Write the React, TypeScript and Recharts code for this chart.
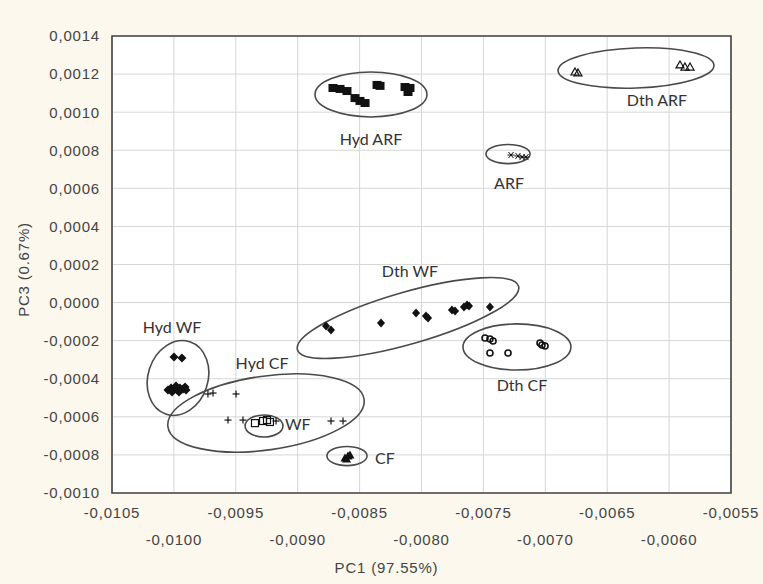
import React from 'react';
import { ScatterChart, Scatter, XAxis, YAxis, CartesianGrid, ReferenceArea } from 'recharts';

const xTicks = [-0.0105, -0.01, -0.0095, -0.009, -0.0085, -0.008, -0.0075, -0.007, -0.0065, -0.006, -0.0055];
const yTicks = [-0.001, -0.0008, -0.0006, -0.0004, -0.0002, 0, 0.0002, 0.0004, 0.0006, 0.0008, 0.001, 0.0012, 0.0014];
// small inner tick marks along the frame, every 0.0001
const xMinor = Array.from({ length: 51 }, (_, i) => -0.0105 + i * 0.0001);
const yMinor = Array.from({ length: 25 }, (_, i) => -0.001 + i * 0.0001);

type Pt = { x: number; y: number };

const hydArf: Pt[] = [
  { x: -0.008715, y: 0.001127 }, { x: -0.008658, y: 0.001122 }, { x: -0.008602, y: 0.001111 },
  { x: -0.008537, y: 0.001074 }, { x: -0.008497, y: 0.001059 }, { x: -0.008456, y: 0.001048 },
  { x: -0.008359, y: 0.001143 }, { x: -0.008335, y: 0.001138 }, { x: -0.008133, y: 0.001132 },
  { x: -0.008109, y: 0.001106 }, { x: -0.008093, y: 0.001127 },
];
const dthArf: Pt[] = [
  { x: -0.00676, y: 0.001211 }, { x: -0.006736, y: 0.001206 },
  { x: -0.005912, y: 0.001248 }, { x: -0.005872, y: 0.001237 }, { x: -0.005831, y: 0.001237 },
];
const arf: Pt[] = [
  { x: -0.007277, y: 0.000775 }, { x: -0.007221, y: 0.00077 },
  { x: -0.007188, y: 0.000764 }, { x: -0.007156, y: 0.000764 },
];
const dthWf: Pt[] = [
  { x: -0.008771, y: -0.000123 }, { x: -0.008731, y: -0.000144 }, { x: -0.008327, y: -0.000107 },
  { x: -0.008044, y: -0.000055 }, { x: -0.007964, y: -0.000071 }, { x: -0.007947, y: -0.000081 },
  { x: -0.007754, y: -0.000039 }, { x: -0.007729, y: -0.000044 }, { x: -0.007657, y: -0.000023 },
  { x: -0.007632, y: -0.000013 }, { x: -0.007616, y: -0.000018 }, { x: -0.007447, y: -0.000023 },
];
const dthCf: Pt[] = [
  { x: -0.007487, y: -0.000186 }, { x: -0.007447, y: -0.000191 }, { x: -0.007422, y: -0.000202 },
  { x: -0.007447, y: -0.000265 }, { x: -0.007301, y: -0.000265 },
  { x: -0.007043, y: -0.000212 }, { x: -0.007027, y: -0.000223 }, { x: -0.007002, y: -0.000228 },
];
const hydWf: Pt[] = [
  { x: -0.009999, y: -0.000286 }, { x: -0.009935, y: -0.000291 },
  { x: -0.010048, y: -0.000459 }, { x: -0.010023, y: -0.000449 }, { x: -0.009999, y: -0.000454 },
  { x: -0.009975, y: -0.000459 }, { x: -0.009951, y: -0.000449 }, { x: -0.009926, y: -0.000454 },
  { x: -0.009902, y: -0.000459 }, { x: -0.009983, y: -0.000438 }, { x: -0.009959, y: -0.00047 },
  { x: -0.010015, y: -0.00047 }, { x: -0.00991, y: -0.000443 },
];
const hydCf: Pt[] = [
  { x: -0.009725, y: -0.00048 }, { x: -0.009684, y: -0.000475 }, { x: -0.009498, y: -0.00048 },
  { x: -0.009563, y: -0.000617 }, { x: -0.009442, y: -0.000617 }, { x: -0.009175, y: -0.000622 },
  { x: -0.008731, y: -0.000622 }, { x: -0.008634, y: -0.000622 },
];
const wf: Pt[] = [
  { x: -0.009345, y: -0.000633 }, { x: -0.00928, y: -0.000622 },
  { x: -0.009248, y: -0.000617 }, { x: -0.009224, y: -0.000627 },
];
const cf: Pt[] = [
  { x: -0.008618, y: -0.000816 }, { x: -0.008594, y: -0.000806 },
  { x: -0.008578, y: -0.000801 }, { x: -0.008605, y: -0.000821 },
];

// group ellipses: centre, half-widths (data units), tilt in degrees
const ellipses = [
  { name: 'Hyd ARF', cx: -0.008408, cy: 0.001093, rx: 0.000452, ry: 0.000118, angle: 0 },
  { name: 'Dth ARF', cx: -0.006267, cy: 0.001232, rx: 0.00063, ry: 0.000105, angle: -2 },
  { name: 'ARF', cx: -0.007301, cy: 0.00078, rx: 0.000178, ry: 0.00005, angle: 0 },
  { name: 'Dth WF', cx: -0.008109, cy: -0.000081, rx: 0.000929, ry: 0.000137, angle: -16 },
  { name: 'Dth CF', cx: -0.007229, cy: -0.000233, rx: 0.000436, ry: 0.000121, angle: 0 },
  { name: 'Hyd WF', cx: -0.009967, cy: -0.000396, rx: 0.000242, ry: 0.0002, angle: 18 },
  { name: 'Hyd CF', cx: -0.009256, cy: -0.00058, rx: 0.0008, ry: 0.000194, angle: -8 },
  { name: 'WF', cx: -0.009272, cy: -0.000648, rx: 0.000153, ry: 0.000058, angle: 0 },
  { name: 'CF', cx: -0.008602, cy: -0.000806, rx: 0.000162, ry: 0.00005, angle: 0 },
];

const groupLabels = [
  { x: -0.008408, y: 0.000859, text: 'Hyd ARF', anchor: 'middle' },
  { x: -0.006098, y: 0.001064, text: 'Dth ARF', anchor: 'middle' },
  { x: -0.007293, y: 0.000628, text: 'ARF', anchor: 'middle' },
  { x: -0.008093, y: 0.000166, text: 'Dth WF', anchor: 'middle' },
  { x: -0.010015, y: -0.000128, text: 'Hyd WF', anchor: 'middle' },
  { x: -0.009288, y: -0.000317, text: 'Hyd CF', anchor: 'middle' },
  { x: -0.009103, y: -0.000638, text: 'WF', anchor: 'start' },
  { x: -0.008376, y: -0.000816, text: 'CF', anchor: 'start' },
  { x: -0.007188, y: -0.000433, text: 'Dth CF', anchor: 'middle' },
];

const fmt = (v: number) => v.toFixed(4).replace('.', ',');
const INK = '#111';
const TICK_FONT = { fontFamily: 'Liberation Sans, Arial, sans-serif', fontSize: 15, fill: '#444', letterSpacing: 0.8 };

const marker = (kind: string) => (p: any) => {
  const { cx, cy } = p;
  if (cx == null || cy == null) return <g />;
  switch (kind) {
    case 'square':
      return <rect x={cx - 4.5} y={cy - 4} width={9} height={8} fill={INK} />;
    case 'diamond':
      return <path d={`M${cx},${cy - 4.5}L${cx + 4},${cy}L${cx},${cy + 4.5}L${cx - 4},${cy}Z`} fill={INK} />;
    case 'blob':
      return <path d={`M${cx},${cy - 4.5}L${cx + 4.5},${cy}L${cx},${cy + 4.5}L${cx - 4.5},${cy}Z`} fill={INK} />;
    case 'openTri':
      return <path d={`M${cx},${cy - 4}L${cx + 4},${cy + 3}L${cx - 4},${cy + 3}Z`} fill="none" stroke={INK} strokeWidth={1.2} />;
    case 'tri':
      return <path d={`M${cx},${cy - 4.5}L${cx + 4.5},${cy + 3.5}L${cx - 4.5},${cy + 3.5}Z`} fill={INK} />;
    case 'star':
      return (
        <g stroke={INK} strokeWidth={1}>
          <line x1={cx - 3.5} y1={cy} x2={cx + 3.5} y2={cy} />
          <line x1={cx - 2.5} y1={cy - 3} x2={cx + 2.5} y2={cy + 3} />
          <line x1={cx + 2.5} y1={cy - 3} x2={cx - 2.5} y2={cy + 3} />
        </g>
      );
    case 'openCircle':
      return <circle cx={cx} cy={cy} r={3} fill="none" stroke={INK} strokeWidth={1.6} />;
    case 'plus':
      return (
        <g stroke={INK} strokeWidth={1.2}>
          <line x1={cx - 3.5} y1={cy} x2={cx + 3.5} y2={cy} />
          <line x1={cx} y1={cy - 3.5} x2={cx} y2={cy + 3.5} />
        </g>
      );
    case 'openSquare':
      return <rect x={cx - 3.5} y={cy - 3.5} width={7} height={7} fill="none" stroke={INK} strokeWidth={1.2} />;
    default:
      return <circle cx={cx} cy={cy} r={3} fill={INK} />;
  }
};

const ellipseShape = (angle: number) => (p: any) => {
  const w = Math.abs(p.width);
  const h = Math.abs(p.height);
  const cx = Math.min(p.x, p.x + p.width) + w / 2;
  const cy = Math.min(p.y, p.y + p.height) + h / 2;
  return (
    <ellipse cx={cx} cy={cy} rx={w / 2} ry={h / 2} transform={`rotate(${angle} ${cx} ${cy})`}
      fill="none" stroke="#4a4a4a" strokeWidth={1.6} />
  );
};

const labelShape = (p: any) => (
  <text x={p.cx} y={p.cy} dy="0.35em" textAnchor={p.payload.anchor}
    style={{ fontFamily: 'Lato, Open Sans, sans-serif', fontSize: 16, fill: '#333' }}>
    {p.payload.text}
  </text>
);

const XTick = (p: any) => {
  const { x, y, payload, index } = p;
  return (
    <text x={x} y={y + (index % 2 === 0 ? 25 : 52)} textAnchor="middle" style={TICK_FONT}>
      {fmt(payload.value)}
    </text>
  );
};

const YTick = (p: any) => {
  const { x, y, payload } = p;
  return (
    <text x={x} y={y} dy="0.36em" textAnchor="end" style={TICK_FONT}>
      {fmt(payload.value)}
    </text>
  );
};

const YTitle = (p: any) => {
  const vb = p.viewBox;
  const x = vb.x + 24;
  const y = vb.y + vb.height / 2 + 5;
  return (
    <text x={x} y={y} dy="0.35em" textAnchor="middle" transform={`rotate(-90 ${x} ${y})`} style={TICK_FONT}>
      PC3 (0.67%)
    </text>
  );
};

const XTitle = (p: any) => {
  const vb = p.viewBox;
  return (
    <text x={vb.x + vb.width / 2 - 35} y={vb.y + 80} textAnchor="middle" style={TICK_FONT}>
      PC1 (97.55%)
    </text>
  );
};

const minorTickLine = { stroke: '#555', strokeWidth: 1 };

export default function App() {
  return (
    <div style={{ position: 'absolute', left: 0, top: 0, width: 763, height: 584, background: '#fcf8ee' }}>
      <ScatterChart width={763} height={584} margin={{ top: 36, right: 32, bottom: 11, left: 0 }}>
        <CartesianGrid stroke="#d6d6d6" fill="#fff" />
        <XAxis xAxisId="minorB" type="number" dataKey="x" orientation="bottom" mirror height={0}
          domain={[-0.0105, -0.0055]} ticks={xMinor} allowDataOverflow interval={0}
          tick={false} tickSize={3} tickLine={minorTickLine} axisLine={false} />
        <XAxis xAxisId="minorT" type="number" dataKey="x" orientation="top" mirror height={0}
          domain={[-0.0105, -0.0055]} ticks={xMinor} allowDataOverflow interval={0}
          tick={false} tickSize={3} tickLine={minorTickLine} axisLine={false} />
        <XAxis type="number" dataKey="x" domain={[-0.0105, -0.0055]} ticks={xTicks} allowDataOverflow
          height={80} tickSize={0} tickMargin={0} axisLine={false} tick={<XTick />} label={<XTitle />} interval={0} />
        <YAxis yAxisId="minorL" type="number" dataKey="y" orientation="left" mirror width={0}
          domain={[-0.001, 0.0014]} ticks={yMinor} allowDataOverflow interval={0}
          tick={false} tickSize={3} tickLine={minorTickLine} axisLine={false} />
        <YAxis yAxisId="minorR" type="number" dataKey="y" orientation="right" mirror width={0}
          domain={[-0.001, 0.0014]} ticks={yMinor} allowDataOverflow interval={0}
          tick={false} tickSize={3} tickLine={minorTickLine} axisLine={false} />
        <YAxis type="number" dataKey="y" domain={[-0.001, 0.0014]} ticks={yTicks} allowDataOverflow
          width={112} tickSize={0} tickMargin={12} axisLine={false} tick={<YTick />} label={<YTitle />} interval={0} />
        <ReferenceArea x1={-0.0105} x2={-0.0055} y1={-0.001} y2={0.0014} ifOverflow="visible"
          fill="none" stroke="#444" strokeWidth={1.6} fillOpacity={0} />
        {ellipses.map((e) => (
          <ReferenceArea key={e.name} x1={e.cx - e.rx} x2={e.cx + e.rx} y1={e.cy - e.ry} y2={e.cy + e.ry}
            ifOverflow="visible" shape={ellipseShape(e.angle)} />
        ))}
        <Scatter data={hydArf} shape={marker('square')} isAnimationActive={false} />
        <Scatter data={dthArf} shape={marker('openTri')} isAnimationActive={false} />
        <Scatter data={arf} shape={marker('star')} isAnimationActive={false} />
        <Scatter data={dthWf} shape={marker('diamond')} isAnimationActive={false} />
        <Scatter data={dthCf} shape={marker('openCircle')} isAnimationActive={false} />
        <Scatter data={hydWf} shape={marker('blob')} isAnimationActive={false} />
        <Scatter data={hydCf} shape={marker('plus')} isAnimationActive={false} />
        <Scatter data={wf} shape={marker('openSquare')} isAnimationActive={false} />
        <Scatter data={cf} shape={marker('tri')} isAnimationActive={false} />
        <Scatter data={groupLabels} shape={labelShape} isAnimationActive={false} />
      </ScatterChart>
    </div>
  );
}
